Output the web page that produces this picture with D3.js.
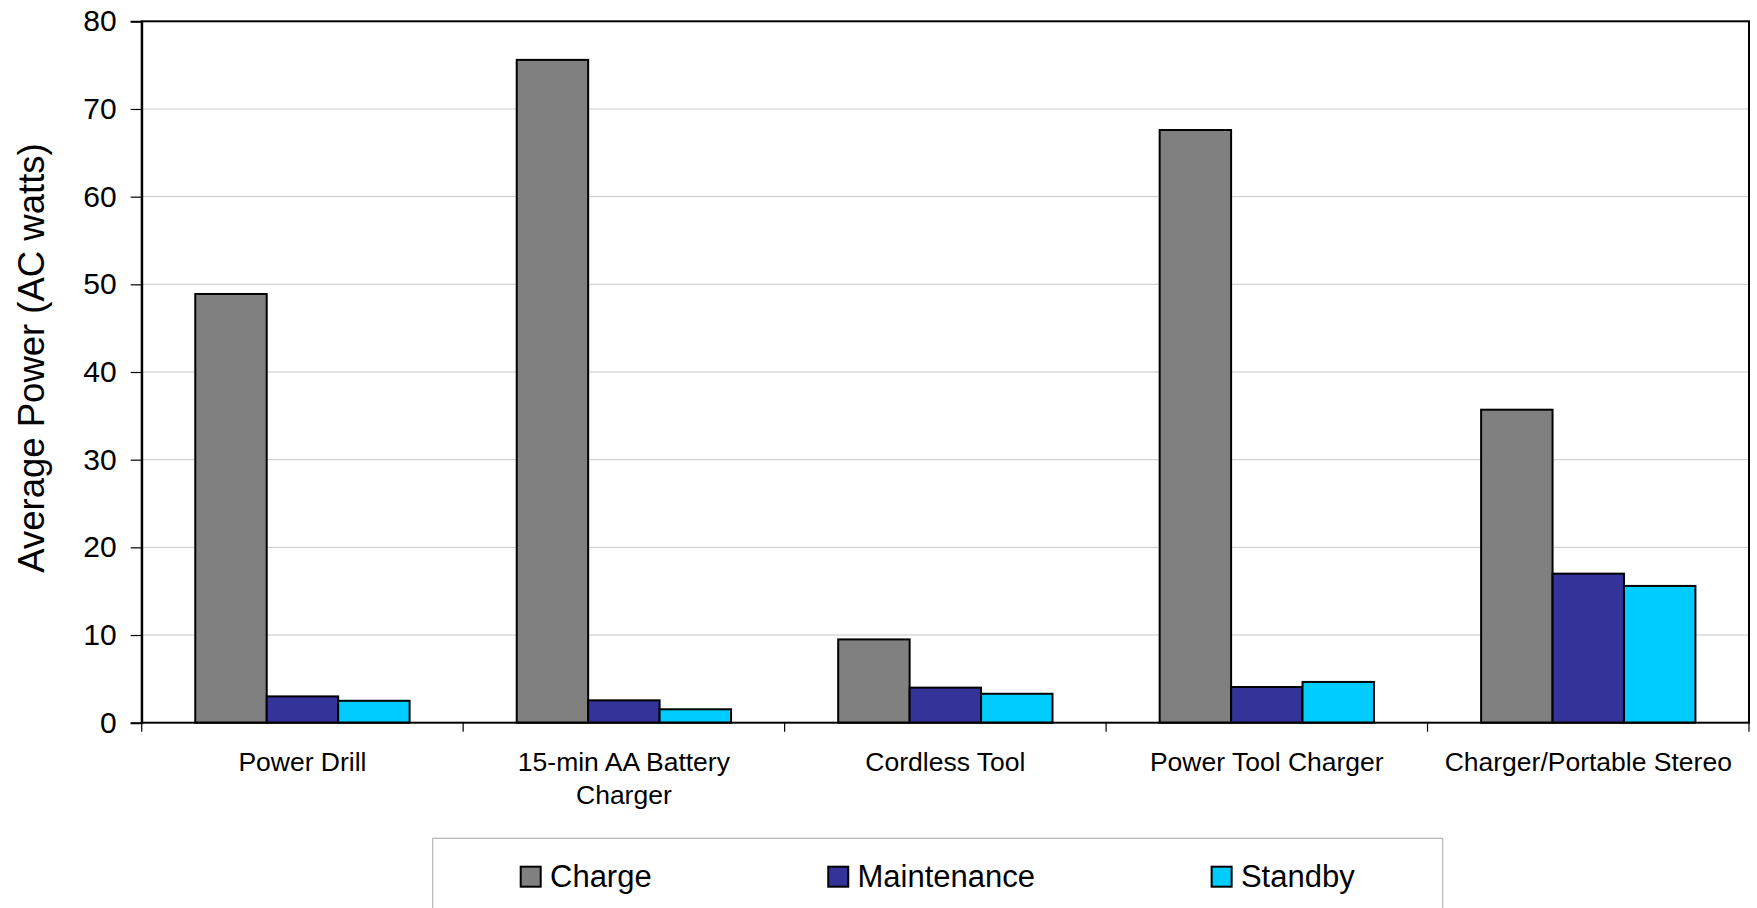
<!DOCTYPE html>
<html>
<head>
<meta charset="utf-8">
<script src="https://cdn.jsdelivr.net/npm/d3@7"></script>
<style>
  html, body { margin: 0; padding: 0; background: #fff; }
  svg { display: block; font-family: "Liberation Sans", Arial, sans-serif; }
</style>
</head>
<body>
<svg id="chart" width="1757" height="908"></svg>
<script>
// Average AC power drawn by battery-charging products in each mode
const categories = ["Power Drill", "15-min AA Battery Charger", "Cordless Tool", "Power Tool Charger", "Charger/Portable Stereo"];
const seriesNames = ["Charge", "Maintenance", "Standby"];
const chargeValues = [48.9, 75.6, 9.5, 67.6, 35.7];
const maintenanceValues = [3.0, 2.55, 4.0, 4.07, 17.0];
const standbyValues = [2.5, 1.53, 3.3, 4.65, 15.6];
const seriesColors = ["#808080", "#333399", "#00CCFF"];
const yTicks = [0, 10, 20, 30, 40, 50, 60, 70, 80];
const yTitle = "Average Power (AC watts)";

const seriesValues = [chargeValues, maintenanceValues, standbyValues];
const rows = categories.map((c, i) => ({
  category: c,
  values: seriesNames.map((s, k) => ({ series: s, value: seriesValues[k][i], color: seriesColors[k] }))
}));

const svg = d3.select("#chart");
const plot = { left: 141.7, top: 21.3, right: 1749, bottom: 722.7 };

const x0 = d3.scaleBand().domain(categories).range([plot.left, plot.right]).padding(0);
const bw = x0.bandwidth();
const unit = bw / 4.5; // bar width with 150% gap between groups
const x1 = d3.scaleBand().domain(seriesNames).range([0.75 * unit, 3.75 * unit]).padding(0);
const y = d3.scaleLinear().domain([0, 80]).range([plot.bottom, plot.top]);

// horizontal gridlines
svg.append("g")
  .selectAll("line")
  .data(yTicks.filter(t => t > 0 && t < 80))
  .join("line")
  .attr("x1", plot.left).attr("x2", plot.right)
  .attr("y1", d => y(d)).attr("y2", d => y(d))
  .attr("stroke", "#c8c8c8").attr("stroke-width", 1);

// bars
const groups = svg.append("g")
  .selectAll("g")
  .data(rows)
  .join("g")
  .attr("transform", d => `translate(${x0(d.category)},0)`);

groups.selectAll("rect")
  .data(d => d.values)
  .join("rect")
  .attr("x", d => x1(d.series))
  .attr("width", x1.bandwidth())
  .attr("y", d => y(d.value))
  .attr("height", d => y(0) - y(d.value))
  .attr("fill", d => d.color)
  .attr("stroke", "#000")
  .attr("stroke-width", 2);

// plot area frame
svg.append("rect")
  .attr("x", plot.left).attr("y", plot.top)
  .attr("width", plot.right - plot.left).attr("height", plot.bottom - plot.top)
  .attr("fill", "none").attr("stroke", "#000").attr("stroke-width", 2);

// y axis
const yAxis = svg.append("g")
  .attr("transform", `translate(${plot.left},0)`)
  .call(d3.axisLeft(y).tickValues(yTicks).tickSize(11).tickPadding(14).tickFormat(d3.format("d")));
yAxis.select(".domain").attr("stroke", "#000").attr("stroke-width", 2);
yAxis.selectAll(".tick line").attr("stroke", "#000").attr("stroke-width", 1.2);
yAxis.selectAll(".tick text")
  .attr("font-size", 30).attr("fill", "#000")
  .attr("font-family", "'Liberation Sans', Arial, sans-serif");

// x axis ticks at category boundaries
const boundaries = categories.map(c => x0(c)).concat([plot.right]);
svg.append("g")
  .selectAll("line")
  .data(boundaries)
  .join("line")
  .attr("x1", d => d).attr("x2", d => d)
  .attr("y1", plot.bottom).attr("y2", plot.bottom + 9)
  .attr("stroke", "#000").attr("stroke-width", 1.2);

// category labels, wrapped to the band width
const labelSize = 26.5;
const labels = svg.append("g")
  .selectAll("text")
  .data(categories)
  .join("text")
  .attr("x", d => x0(d) + bw / 2)
  .attr("y", 770.5)
  .attr("text-anchor", "middle")
  .attr("font-size", labelSize)
  .attr("fill", "#000");

labels.each(function(d) {
  const text = d3.select(this);
  const words = d.split(" ");
  const maxW = bw * 0.95;
  let line = [];
  let tspan = text.append("tspan").attr("x", x0(d) + bw / 2).attr("dy", 0);
  words.forEach(w => {
    line.push(w);
    tspan.text(line.join(" "));
    if (tspan.node().getComputedTextLength() > maxW && line.length > 1) {
      line.pop();
      tspan.text(line.join(" "));
      line = [w];
      tspan = text.append("tspan").attr("x", x0(d) + bw / 2).attr("dy", 33).text(w);
    }
  });
});

// y axis title
svg.append("text")
  .attr("transform", `translate(43.5,358) rotate(-90)`)
  .attr("text-anchor", "middle")
  .attr("font-size", 36.5)
  .attr("fill", "#000")
  .text(yTitle);

// legend
const legend = { x: 432.7, y: 838.3, w: 1010, h: 120, margin: 88 };
svg.append("rect")
  .attr("x", legend.x).attr("y", legend.y)
  .attr("width", legend.w).attr("height", legend.h)
  .attr("fill", "#fff").attr("stroke", "#b4b4b4").attr("stroke-width", 1.2);

const swatch = 20, swatchGap = 9.3, legendFont = 31;
const items = svg.append("g")
  .selectAll("g")
  .data(seriesNames.map((s, k) => ({ name: s, color: seriesColors[k] })))
  .join("g");

items.append("rect")
  .attr("width", swatch).attr("height", swatch)
  .attr("y", 866.7)
  .attr("fill", d => d.color)
  .attr("stroke", "#000").attr("stroke-width", 2);

items.append("text")
  .attr("y", 886.5)
  .attr("font-size", legendFont)
  .attr("fill", "#000")
  .text(d => d.name);

const widths = [];
items.each(function() {
  widths.push(swatch + swatchGap + d3.select(this).select("text").node().getComputedTextLength());
});
const free = legend.w - 2 * legend.margin - d3.sum(widths);
const gap = free / (widths.length - 1);
let cursor = legend.x + legend.margin;
items.each(function(d, i) {
  const g = d3.select(this);
  g.select("rect").attr("x", cursor);
  g.select("text").attr("x", cursor + swatch + swatchGap);
  cursor += widths[i] + gap;
});
</script>
</body>
</html>
